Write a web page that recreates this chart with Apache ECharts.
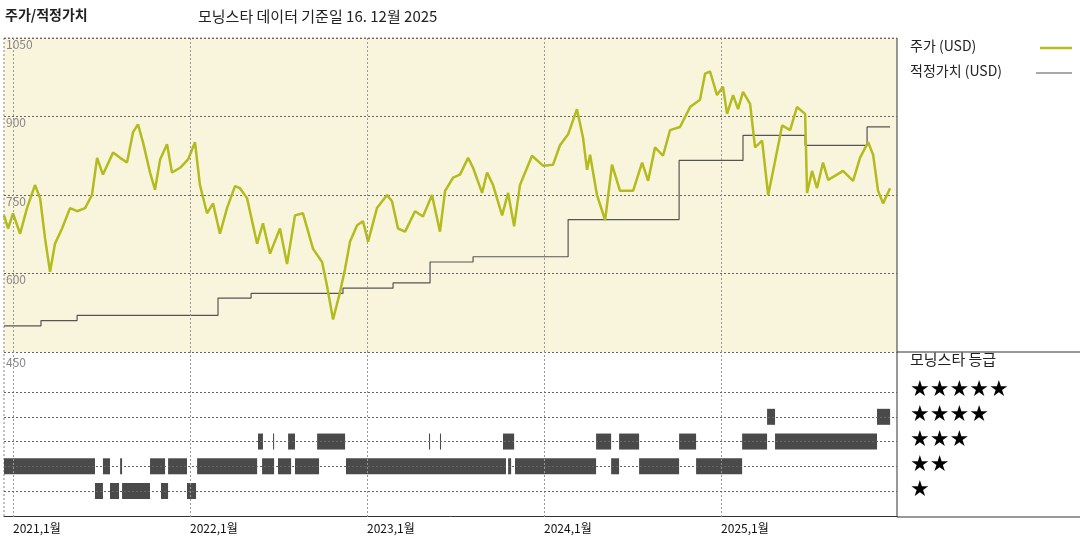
<!DOCTYPE html>
<html><head><meta charset="utf-8">
<script src="https://cdn.jsdelivr.net/npm/echarts@6/dist/echarts.min.js"></script>
<style>body{margin:0;background:#fff}#c{width:1080px;height:540px}</style>
</head><body><div id="c"></div>
<script>
// time in decimal years
const priceT = [2020.949,2020.972,2021.000,2021.040,2021.079,2021.124,2021.153,2021.181,2021.209,2021.237,2021.277,2021.322,2021.362,2021.407,2021.446,2021.475,2021.508,2021.565,2021.605,2021.644,2021.678,2021.706,2021.734,2021.774,2021.802,2021.831,2021.870,2021.898,2021.944,2021.989,2022.028,2022.056,2022.096,2022.130,2022.169,2022.209,2022.254,2022.282,2022.322,2022.379,2022.412,2022.452,2022.508,2022.548,2022.593,2022.638,2022.695,2022.746,2022.774,2022.808,2022.847,2022.876,2022.904,2022.944,2022.977,2023.006,2023.056,2023.113,2023.141,2023.175,2023.215,2023.271,2023.316,2023.367,2023.412,2023.441,2023.486,2023.525,2023.571,2023.599,2023.650,2023.678,2023.712,2023.763,2023.797,2023.831,2023.864,2023.932,2023.994,2024.051,2024.090,2024.136,2024.186,2024.220,2024.243,2024.260,2024.299,2024.345,2024.384,2024.429,2024.503,2024.554,2024.588,2024.627,2024.672,2024.712,2024.768,2024.825,2024.881,2024.910,2024.938,2024.977,2025.011,2025.034,2025.068,2025.096,2025.124,2025.164,2025.192,2025.232,2025.266,2025.294,2025.345,2025.390,2025.429,2025.475,2025.486,2025.514,2025.542,2025.576,2025.605,2025.655,2025.689,2025.746,2025.785,2025.831,2025.859,2025.887,2025.915,2025.955];
const priceV = [711,686,715,676,725,769,744,667,603,657,686,725,719,725,750,821,789,831,821,812,870,885,851,793,760,818,847,793,802,818,851,769,715,734,676,725,767,763,744,657,696,638,686,618,711,715,647,622,576,512,564,609,661,692,700,661,725,750,738,686,680,719,709,750,680,758,783,789,821,802,754,793,769,711,754,690,769,825,806,808,845,866,914,860,798,827,750,702,808,758,758,812,777,841,825,874,880,918,932,982,986,941,957,905,941,914,947,924,841,854,750,796,883,874,918,905,754,796,763,812,779,789,796,777,821,851,827,758,734,763];
const fairT = [2020.949,2021.158,2021.362,2022.158,2022.345,2022.864,2023.147,2023.356,2023.599,2024.136,2024.763,2025.124,2025.475,2025.825,2025.955];
const fairV = [500,510,520,553,562,572,582,622,632,703,816,864,845,880,880];
// Morningstar rating periods [start, end, stars]
const ratingStart = [2020.949,2021.508,2021.605,2021.774,2021.876,2022.040,2022.407,2022.497,2022.593,2022.881,2023.797,2023.836,2024.379,2024.537,2024.859,2021.463,2021.548,2021.616,2021.836,2021.983,2022.384,2022.469,2022.554,2022.718,2023.350,2023.412,2023.768,2024.294,2024.424,2024.763,2025.119,2025.305,2025.260,2025.881];
const ratingEnd   = [2021.463,2021.548,2021.616,2021.859,2021.983,2022.379,2022.475,2022.571,2022.729,2023.785,2023.814,2024.294,2024.424,2024.763,2025.119,2021.508,2021.599,2021.774,2021.876,2022.034,2022.412,2022.475,2022.593,2022.876,2023.356,2023.418,2023.831,2024.379,2024.537,2024.859,2025.260,2025.881,2025.305,2025.955];
const ratingStars = [2,2,2,2,2,2,2,2,2,2,2,2,2,2,2,1,1,1,1,1,3,3,3,3,3,3,3,3,3,3,3,3,4,4];
const yearTicks = [2021,2022,2023,2024,2025];
const yearLabels = ['2021,1월','2022,1월','2023,1월','2024,1월','2025,1월'];
const priceTicks = [450,600,750,900,1050];
const starLabels = ['★','★★','★★★','★★★★','★★★★★'];

const XMIN = 2020.949, XMAX = 2025.994;
const chart = echarts.init(document.getElementById('c'));
const vlines = {silent:true,symbol:'none',label:{show:false},lineStyle:{color:'#999',type:[2,2],width:1},data:yearTicks.map(v=>({xAxis:v}))};
const hlines = {silent:true,symbol:'none',label:{show:false},lineStyle:{color:'#666',type:[2,2],width:1},data:[1,2,3,4,5].map(v=>({yAxis:v}))};
const ratings = ratingStart.map((s,i)=>[s,ratingEnd[i],ratingStars[i]]);
const font = 'Noto Sans CJK KR, Noto Sans, sans-serif';
chart.setOption({
  animation:false,
  textStyle:{fontFamily:font},
  grid:[
    {left:4,top:38,width:893,height:314,show:true,backgroundColor:'#f9f5dc',borderWidth:0},
    {left:4,top:352,width:893,height:165}
  ],
  xAxis:[
    {type:'value',gridIndex:0,min:XMIN,max:XMAX,axisLine:{show:false},axisTick:{show:false},axisLabel:{show:false},splitLine:{show:false}},
    {type:'value',gridIndex:1,min:XMIN,max:XMAX,axisLine:{show:true,lineStyle:{color:'#333'}},axisTick:{show:false},splitLine:{show:false},
     axisLabel:{customValues:yearTicks,align:'left',margin:5,color:'#111',fontSize:12,formatter:v=>yearLabels[yearTicks.indexOf(Math.round(v))]||''}}
  ],
  yAxis:[
    {type:'value',gridIndex:0,min:450,max:1050,interval:150,axisLine:{show:false},axisTick:{show:false},
     axisLabel:{inside:true,verticalAlign:'top',margin:2,color:'#888',fontSize:12,formatter:v=>v===450?'':String(v)},
     splitLine:{show:true,lineStyle:{color:'#666',type:[2,2]}}},
    {type:'value',gridIndex:1,min:-0.05,max:6.62,axisLine:{show:false},axisTick:{show:false},axisLabel:{show:false},splitLine:{show:false}}
  ],
  series:[
    {type:'line',xAxisIndex:0,yAxisIndex:0,data:fairT.map((t,i)=>[t,fairV[i]]),step:'end',symbol:'none',lineStyle:{color:'#555',width:1.2},markLine:vlines,z:3},
    {type:'line',xAxisIndex:0,yAxisIndex:0,data:priceT.map((t,i)=>[t,priceV[i]]),symbol:'none',lineStyle:{color:'#b3bb1e',width:2.5},z:4},
    {type:'custom',xAxisIndex:1,yAxisIndex:1,data:ratings,
     renderItem:(p,api)=>{const a=api.coord([api.value(0),api.value(2)]);const b=api.coord([api.value(1),api.value(2)]);
       return {type:'rect',shape:{x:a[0],y:a[1]-8,width:Math.max(1,b[0]-a[0]),height:16},style:{fill:'#4a4a4a'}};},
     markLine:Object.assign({},vlines),z:3},
    {type:'line',xAxisIndex:1,yAxisIndex:1,data:[],markLine:hlines}
  ],
  graphic:[
    {type:'text',left:5,top:8,style:{text:'주가/적정가치',font:'bold 14px '+font,fill:'#222'}},
    {type:'text',left:198,top:9,style:{text:'모닝스타 데이터 기준일 16. 12월 2025',font:'15px '+font,fill:'#222'}},
    {type:'text',left:6,top:356,style:{text:'450',font:'12px '+font,fill:'#888'}},
    {type:'line',shape:{x1:4,y1:38,x2:897,y2:38},style:{stroke:'#888',lineDash:[2,2]}},
    {type:'line',shape:{x1:4,y1:38,x2:4,y2:517},style:{stroke:'#888',lineDash:[2,2]}},
    {type:'line',shape:{x1:897,y1:38,x2:897,y2:517},style:{stroke:'#333',lineWidth:1}},
    {type:'line',shape:{x1:897,y1:352,x2:1080,y2:352},style:{stroke:'#333',lineWidth:1}},
    {type:'line',shape:{x1:897,y1:517,x2:1080,y2:517},style:{stroke:'#333',lineWidth:1}},
    {type:'text',left:910,top:39,style:{text:'주가 (USD)',font:'14px '+font,fill:'#222'}},
    {type:'line',shape:{x1:1040,y1:48,x2:1072,y2:48},style:{stroke:'#b3bb1e',lineWidth:2.5}},
    {type:'text',left:910,top:64,style:{text:'적정가치 (USD)',font:'14px '+font,fill:'#222'}},
    {type:'line',shape:{x1:1036,y1:73,x2:1072,y2:73},style:{stroke:'#555',lineWidth:1.2}},
    {type:'text',left:910,top:352,style:{text:'모닝스타 등급',font:'15px '+font,fill:'#222'}},
    ...starLabels.map((s,i)=>({type:'text',left:910,top:491-i*25-12,style:{text:s,font:'22px DejaVu Sans, sans-serif',fill:'#000'}}))
  ]
});
</script></body></html>
